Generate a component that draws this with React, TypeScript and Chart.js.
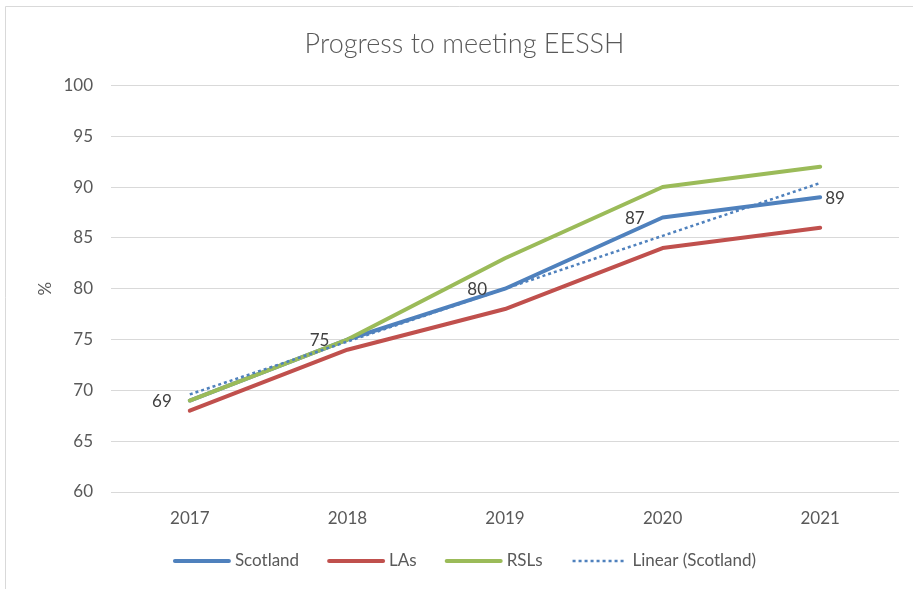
import React, { useEffect, useRef } from 'react';
import { Chart, registerables } from 'chart.js';

Chart.register(...registerables);

const categories = ['2017', '2018', '2019', '2020', '2021'];
const scotland = [69, 75, 80, 87, 89];
const las = [68, 74, 78, 84, 86];
const rsls = [69, 75, 83, 90, 92];
const linearScotland = [69.6, 74.8, 80.0, 85.2, 90.4];
const scotlandLabelSides = ['left', 'left', 'left', 'left', 'right'];
const seriesNames = ['Scotland', 'LAs', 'RSLs', 'Linear (Scotland)'];
const chartTitle = 'Progress to meeting EESSH';
const yAxisTitle = '%';
const yMin = 60;
const yMax = 100;
const yStep = 5;

const FONT = "Lato, 'Open Sans', sans-serif";
const TEXT = '#595959';

const framePlugin = {
  id: 'frame',
  beforeDraw(chart: any) {
    const ctx = chart.ctx;
    ctx.save();
    ctx.fillStyle = '#ffffff';
    ctx.fillRect(0, 0, chart.width, chart.height);
    ctx.strokeStyle = '#d9d9d9';
    ctx.lineWidth = 1;
    ctx.beginPath();
    ctx.moveTo(5.5, chart.height);
    ctx.lineTo(5.5, 6.5);
    ctx.lineTo(chart.width, 6.5);
    ctx.stroke();
    ctx.restore();
  },
};

const dataLabelPlugin = {
  id: 'scotlandLabels',
  afterDatasetsDraw(chart: any) {
    const ctx = chart.ctx;
    const meta = chart.getDatasetMeta(0);
    const ds = chart.data.datasets[0];
    ctx.save();
    ctx.font = `17px ${FONT}`;
    ctx.fillStyle = '#404040';
    ctx.textBaseline = 'middle';
    meta.data.forEach((pt: any, i: number) => {
      const side = scotlandLabelSides[i];
      const text = String(ds.data[i]);
      if (side === 'left') {
        ctx.textAlign = 'right';
        ctx.fillText(text, pt.x - 18, pt.y + 1);
      } else {
        ctx.textAlign = 'left';
        ctx.fillText(text, pt.x + 5, pt.y + 1);
      }
    });
    ctx.restore();
  },
};

const legendPlugin = {
  id: 'customLegend',
  afterDraw(chart: any) {
    const ctx = chart.ctx;
    ctx.save();
    ctx.font = `17px ${FONT}`;
    const lineLen = 58;
    const gapText = 4;
    const gapItem = 28;
    const items = chart.data.datasets.map((ds: any) => ({
      text: ds.label,
      color: ds.borderColor,
      width: ds.borderWidth,
      dash: ds.borderDash || [],
      tw: ctx.measureText(ds.label).width,
    }));
    const total =
      items.reduce((s: number, it: any) => s + lineLen + gapText + it.tw, 0) +
      gapItem * (items.length - 1);
    let x = chart.width / 2 + 8 - total / 2;
    const y = 561;
    items.forEach((it: any) => {
      ctx.save();
      ctx.strokeStyle = it.color;
      ctx.lineWidth = it.width;
      ctx.setLineDash(it.dash);
      ctx.lineCap = it.dash.length ? 'butt' : 'round';
      ctx.beginPath();
      ctx.moveTo(x + 2, y);
      ctx.lineTo(x + lineLen - 2, y);
      ctx.stroke();
      ctx.restore();
      ctx.fillStyle = TEXT;
      ctx.textAlign = 'left';
      ctx.textBaseline = 'middle';
      ctx.fillText(it.text, x + lineLen + gapText, y);
      x += lineLen + gapText + it.tw + gapItem;
    });
    ctx.restore();
  },
};

export default function App() {
  const ref = useRef<HTMLCanvasElement>(null);

  useEffect(() => {
    if (!ref.current) return;
    const chart = new Chart(ref.current, {
      type: 'line',
      data: {
        labels: categories,
        datasets: [
          {
            label: seriesNames[0],
            data: scotland,
            borderColor: '#4F81BD',
            backgroundColor: '#4F81BD',
            borderWidth: 4,
            pointRadius: 0,
            borderCapStyle: 'round',
            borderJoinStyle: 'round',
            order: 4,
          },
          {
            label: seriesNames[1],
            data: las,
            borderColor: '#C0504D',
            backgroundColor: '#C0504D',
            borderWidth: 4,
            pointRadius: 0,
            borderCapStyle: 'round',
            borderJoinStyle: 'round',
            order: 3,
          },
          {
            label: seriesNames[2],
            data: rsls,
            borderColor: '#9BBB59',
            backgroundColor: '#9BBB59',
            borderWidth: 4,
            pointRadius: 0,
            borderCapStyle: 'round',
            borderJoinStyle: 'round',
            order: 2,
          },
          {
            label: seriesNames[3],
            data: linearScotland,
            borderColor: '#4F81BD',
            backgroundColor: '#4F81BD',
            borderWidth: 2.5,
            borderDash: [3, 3],
            pointRadius: 0,
            order: 1,
          } as any,
        ],
      },
      options: {
        responsive: false,
        animation: false,
        devicePixelRatio: 1,
        layout: { padding: { left: 30, right: 14, top: 0, bottom: 0 } },
        plugins: {
          legend: { display: false },
          tooltip: { enabled: false },
          title: {
            display: true,
            text: chartTitle,
            color: TEXT,
            font: { family: FONT, size: 27, weight: 300 as any },
            padding: { top: 28, bottom: 25 },
          },
        },
        scales: {
          x: {
            offset: true,
            grid: { display: false, drawTicks: false },
            border: { display: false },
            ticks: {
              color: TEXT,
              font: { family: FONT, size: 17 },
              padding: 16,
              maxRotation: 0,
            },
            afterFit: (scale: any) => {
              scale.height = 97;
            },
          },
          y: {
            min: yMin,
            max: yMax,
            grid: { color: '#d9d9d9', lineWidth: 1, drawTicks: false },
            border: { display: false },
            ticks: {
              stepSize: yStep,
              color: TEXT,
              font: { family: FONT, size: 17 },
              padding: 18,
            },
            title: {
              display: true,
              text: yAxisTitle,
              color: TEXT,
              font: { family: FONT, size: 17 },
              padding: { top: 5, bottom: 0 },
            },
            afterFit: (scale: any) => {
              scale.width = 81;
            },
          },
        },
      },
      plugins: [framePlugin, dataLabelPlugin, legendPlugin],
    });
    return () => chart.destroy();
  }, []);

  return (
    <div style={{ position: 'absolute', left: 0, top: 0, width: 913, height: 589 }}>
      <canvas ref={ref} width={913} height={589} />
    </div>
  );
}
